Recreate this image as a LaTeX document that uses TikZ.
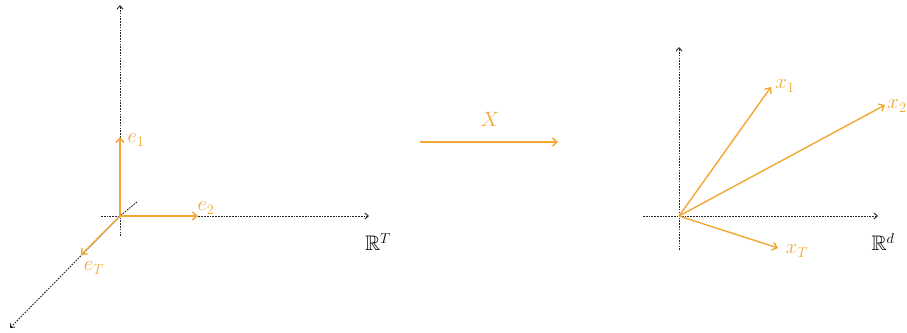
\documentclass[tikz,border=0pt]{standalone}
\usepackage{amssymb}
\usetikzlibrary{arrows.meta}
\definecolor{vecor}{RGB}{240,168,50}
\begin{document}
\begin{tikzpicture}[x=1pt,y=-1pt,
  axis/.style={draw=black!85,line width=0.9pt,dash pattern=on 1.7pt off 1.1pt,-{Straight Barb[length=3.5pt,width=6pt]}},
  vec/.style={draw=vecor,line width=1.4pt,-{Straight Barb[length=4.5pt,width=8pt]}},
  vlab/.style={text=vecor,font=\fontsize{20}{22}\selectfont,inner sep=1pt},
  spc/.style={font=\fontsize{21}{23}\selectfont,inner sep=1pt}]
\useasboundingbox (0,0) rectangle (907,332);
% left axes
\coordinate (O1) at (120,216);
\coordinate (A1b) at (120,236);
\coordinate (A1t) at (120,5);
\coordinate (A2l) at (101,216);
\coordinate (A2r) at (369,216);
\coordinate (A3u) at (137,202);
\coordinate (A3d) at (10,328);
\draw[axis,-] (A1b) -- (O1);
\draw[axis] (O1) -- (A1t);
\draw[axis,-] (A2l) -- (O1);
\draw[axis] (O1) -- (A2r);
\draw[axis,-] (A3u) -- (O1);
\draw[axis] (O1) -- (A3d);
\coordinate (E1) at (120,137);
\coordinate (E2) at (198,216);
\coordinate (ET) at (81,255);
\draw[vec] (O1) -- (E1);
\draw[vec] (O1) -- (E2);
\draw[vec] (O1) -- (ET);
\node[vlab] (le1) at (136,140) {$e_1$};
\node[vlab] (le2) at (206,208) {$e_2$};
\node[vlab] (leT) at (94,268) {$e_T$};
\node[spc] (RT) at (378,242) {$\mathbb{R}^T$};
% map arrow
\coordinate (M1) at (420,142);
\coordinate (M2) at (558,142);
\draw[vec] (M1) -- (M2);
\node[vlab,font=\fontsize{22}{24}\selectfont] (lX) at (490,119) {$X$};
% right axes
\coordinate (O2) at (679,216);
\coordinate (B1b) at (679,250);
\coordinate (B1t) at (679,47);
\coordinate (B2l) at (643,216);
\coordinate (B2r) at (878,216);
\draw[axis,-] (B1b) -- (O2);
\draw[axis] (O2) -- (B1t);
\draw[axis,-] (B2l) -- (O2);
\draw[axis] (O2) -- (B2r);
\coordinate (X1) at (771,87);
\coordinate (X2) at (885,105);
\coordinate (XT) at (778,248);
\draw[vec] (O2) -- (X1);
\draw[vec] (O2) -- (X2);
\draw[vec] (O2) -- (XT);
\node[vlab] (lx1) at (785,86) {$x_1$};
\node[vlab] (lx2) at (897,106) {$x_2$};
\node[vlab] (lxT) at (797,251) {$x_T$};
\node[spc] (Rd) at (883,242) {$\mathbb{R}^d$};
\end{tikzpicture}
\end{document}
